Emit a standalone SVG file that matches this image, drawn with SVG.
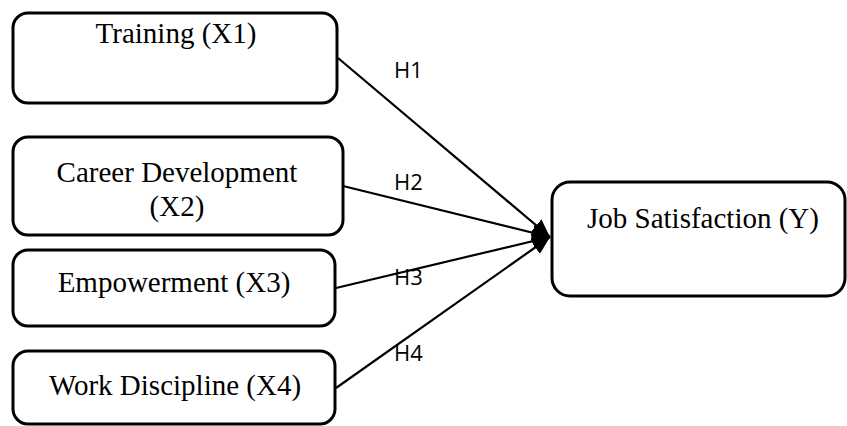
<svg xmlns="http://www.w3.org/2000/svg" width="847" height="426" viewBox="0 0 847 426">
  <style>
    .box { fill: #ffffff; stroke: #000000; stroke-width: 3; }
    .lbl { font-family: "Liberation Serif", "Times New Roman", serif; font-size: 29px; fill: #000000; text-anchor: middle; }
    .hyp { font-family: "Open Sans", "Liberation Sans", sans-serif; font-size: 22px; fill: #000000; }
    .edge { fill: none; stroke: #000000; stroke-width: 2.2; marker-end: url(#head); }
  </style>
  <defs>
    <marker id="head" viewBox="0 0 18 16" refX="18" refY="8" markerWidth="18" markerHeight="16" markerUnits="userSpaceOnUse" orient="auto">
      <path d="M0,0 L18,8 L0,16 Z" fill="#000000"/>
    </marker>
  </defs>
  <rect width="847" height="426" fill="#ffffff"/>

  <g id="connectors">
    <line class="edge" x1="338" y1="58" x2="550" y2="237"/>
    <line class="edge" x1="343" y1="186" x2="550" y2="237"/>
    <line class="edge" x1="336" y1="288" x2="550" y2="237"/>
    <line class="edge" x1="336" y1="388" x2="550" y2="237"/>
    <text class="hyp" x="394" y="78">H1</text>
    <text class="hyp" x="394" y="190">H2</text>
    <text class="hyp" x="394" y="285">H3</text>
    <text class="hyp" x="394" y="361">H4</text>
  </g>

  <g id="training">
    <rect class="box" x="13" y="13" width="324" height="90" rx="15"/>
    <text class="lbl" x="176" y="43">Training (X1)</text>
  </g>

  <g id="career">
    <rect class="box" x="13" y="137" width="330" height="98" rx="15"/>
    <text class="lbl" x="177" y="182">Career Development</text>
    <text class="lbl" x="177" y="216">(X2)</text>
  </g>

  <g id="empowerment">
    <rect class="box" x="13" y="250" width="322" height="76" rx="15"/>
    <text class="lbl" x="174" y="292">Empowerment (X3)</text>
  </g>

  <g id="discipline">
    <rect class="box" x="13" y="351" width="322" height="73" rx="15"/>
    <text class="lbl" x="175" y="395">Work Discipline (X4)</text>
  </g>

  <g id="satisfaction">
    <rect class="box" x="552" y="182" width="293" height="114" rx="18"/>
    <text class="lbl" x="703" y="228">Job Satisfaction (Y)</text>
  </g>
</svg>
